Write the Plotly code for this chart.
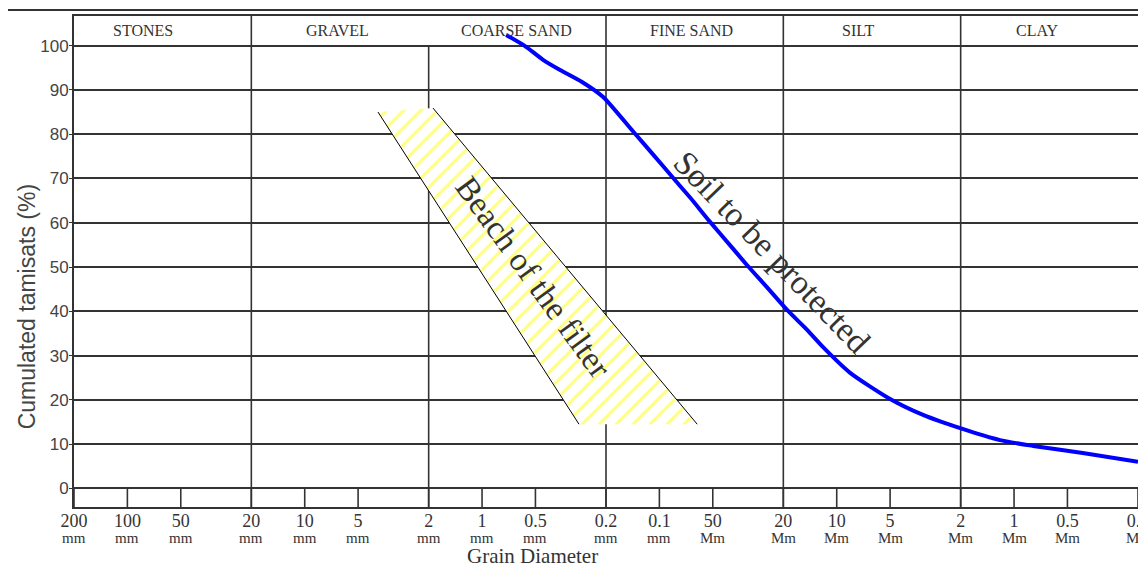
import numpy as np
import plotly.graph_objects as go

# ---- data ----
tick_mm = [200, 100, 50, 20, 10, 5, 2, 1, 0.5, 0.2, 0.1, 0.05, 0.02, 0.01, 0.005,
           0.002, 0.001, 0.0005, 0.0002]
tick_num = ["200", "100", "50", "20", "10", "5", "2", "1", "0.5", "0.2", "0.1", "50",
            "20", "10", "5", "2", "1", "0.5", "0.2"]
tick_unit = ["mm"] * 11 + ["Mm"] * 8

fraction_bounds_mm = [20, 2, 0.2, 0.02, 0.002]       # full-height separators
header_bounds_mm = [20, 0.2, 0.02, 0.002]            # separators in header row
fraction_names = ["STONES", "GRAVEL", "COARSE SAND", "FINE SAND", "SILT", "CLAY"]
fraction_label_mm = [81.6, 6.5, 0.643, 0.0662, 0.00757, 0.000741]

y_ticks = [0, 10, 20, 30, 40, 50, 60, 70, 80, 90, 100]

soil_d_mm = [0.731, 0.572, 0.453, 0.363, 0.273, 0.2075, 0.1406, 0.1084, 0.0815, 0.0671,
             0.0518, 0.0399, 0.0320, 0.0247, 0.01905, 0.01469, 0.01194, 0.0084, 0.005,
             0.00326, 0.00201, 0.0012, 0.00078, 0.00041, 0.0002]
soil_pct = [102.4, 99.9, 96.8, 94.5, 91.8, 88.4, 80.6, 75.4, 69.6, 65.7, 60.2, 54.9,
            50.4, 45.4, 40.3, 35.8, 31.9, 26.1, 20.2, 16.6, 13.6, 10.9, 9.6, 8.0, 6.0]

filter_d_mm = [3.86, 1.89, 0.0612, 0.284]
filter_pct = [85.0, 85.9, 14.5, 14.5]

# ---- layout constants ----
Y_MIN, Y_MAX = -4.2, 106.7
HEADER_Y = 103.5
LINE = "#333333"
SERIF = "Liberation Serif, Times New Roman, serif"
SANS = "Liberation Sans Narrow, Arial Narrow, Liberation Sans, sans-serif"

fig = go.Figure()

def vline(x, y0, y1, width=1.6):
    fig.add_trace(go.Scatter(x=[x, x], y=[y0, y1], mode="lines",
                             line=dict(color=LINE, width=width),
                             hoverinfo="skip", showlegend=False, cliponaxis=False))

# minor tick marks in bottom strip
for t in tick_mm:
    vline(t, Y_MIN, 0)
# fraction separators
for b in fraction_bounds_mm:
    top = Y_MAX if b in header_bounds_mm else 100
    vline(b, Y_MIN, top)

# filter band (hatched)
fig.add_trace(go.Scatter(
    x=filter_d_mm + [filter_d_mm[0]], y=filter_pct + [filter_pct[0]],
    mode="lines", fill="toself", fillcolor="white",
    fillpattern=dict(shape="/", fgcolor="#ffff00", bgcolor="white", size=12, solidity=0.25),
    line=dict(width=0), hoverinfo="skip", showlegend=False))
# left and right edges of band
fig.add_trace(go.Scatter(x=[filter_d_mm[0], filter_d_mm[3]], y=[filter_pct[0], filter_pct[3]],
                         mode="lines", line=dict(color="black", width=1),
                         hoverinfo="skip", showlegend=False))
fig.add_trace(go.Scatter(x=[filter_d_mm[1], filter_d_mm[2]], y=[filter_pct[1], filter_pct[2]],
                         mode="lines", line=dict(color="black", width=1),
                         hoverinfo="skip", showlegend=False))

# soil curve
fig.add_trace(go.Scatter(x=soil_d_mm, y=soil_pct, mode="lines",
                         line=dict(color="#0000ff", width=4, shape="spline", smoothing=0.6),
                         hoverinfo="skip", showlegend=False, cliponaxis=False))

annotations = []
for name, xm in zip(fraction_names, fraction_label_mm):
    annotations.append(dict(x=np.log10(xm), y=HEADER_Y, xref="x", yref="y", text=name,
                            showarrow=False, font=dict(family=SERIF, size=16, color=LINE)))
for t, u in zip(tick_mm, tick_unit):
    annotations.append(dict(x=np.log10(t), y=-0.064, xref="x", yref="paper", text=u,
                            showarrow=False, yanchor="middle",
                            font=dict(family=SERIF, size=15, color=LINE)))
annotations.append(dict(x=np.log10(0.515), y=47.8, xref="x", yref="y",
                        text="Beach of the filter", textangle=54, showarrow=False,
                        font=dict(family=SERIF, size=33, color="#333333")))
annotations.append(dict(x=np.log10(0.0234), y=53.4, xref="x", yref="y",
                        text="Soil to be protected", textangle=46, showarrow=False,
                        font=dict(family=SERIF, size=34, color="#333333")))
annotations.append(dict(x=0.431, y=-0.10, xref="paper", yref="paper", text="Grain Diameter",
                        showarrow=False, yanchor="middle",
                        font=dict(family=SERIF, size=21, color=LINE)))
annotations.append(dict(x=-0.044, y=0.407, xref="paper", yref="paper",
                        text="Cumulated tamisats (%)", textangle=-90, showarrow=False,
                        xanchor="center",
                        font=dict(family=SANS, size=23, color="#444444")))

shapes = [
    dict(type="line", xref="paper", yref="paper", x0=-0.063, x1=1.05, y0=1.012, y1=1.012,
         line=dict(color=LINE, width=2)),
    dict(type="line", xref="paper", yref="paper", x0=-0.063, x1=-0.063, y0=-0.2, y1=1.012,
         line=dict(color=LINE, width=2)),
]

fig.update_layout(
    width=1146, height=569,
    margin=dict(l=66, r=16, t=8, b=70, autoexpand=False),
    paper_bgcolor="white", plot_bgcolor="white",
    annotations=annotations, shapes=shapes,
    xaxis=dict(type="log", range=[np.log10(200), np.log10(0.0002)], automargin=False,
               tickvals=tick_mm, ticktext=tick_num, showgrid=False, zeroline=False,
               ticks="", showline=True, mirror=True, linecolor=LINE, linewidth=2,
               ticklabelstandoff=-4,
               tickfont=dict(family=SERIF, size=18, color=LINE)),
    yaxis=dict(range=[Y_MIN, Y_MAX], tickvals=y_ticks, showgrid=True, gridcolor=LINE,
               gridwidth=1.6, zeroline=False, ticks="outside", ticklen=3, tickcolor=LINE,
               showline=True, mirror=True, linecolor=LINE, linewidth=2, automargin=False,
               ticklabelstandoff=-3,
               tickfont=dict(family=SANS, size=17, color="#444444")),
)

fig.write_html("out.html")
